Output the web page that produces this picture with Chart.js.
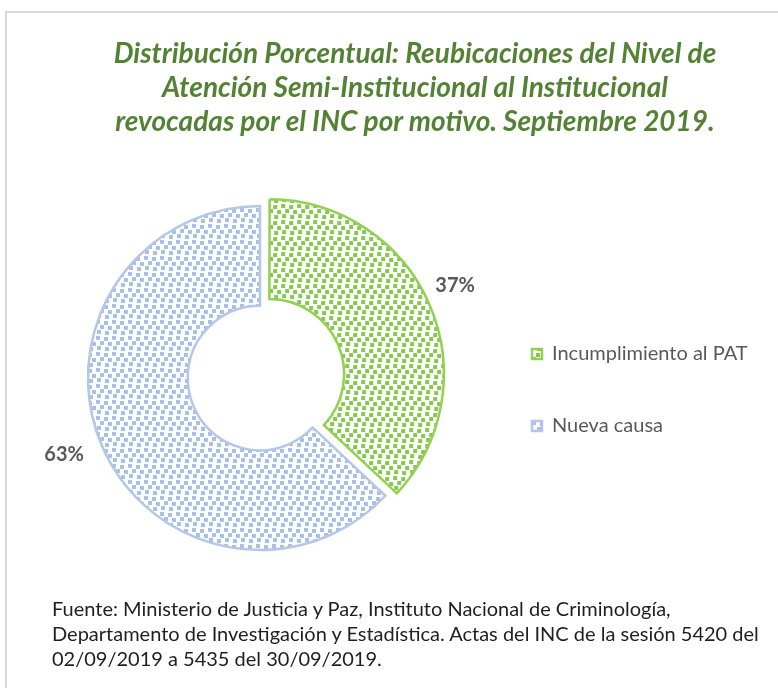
<!DOCTYPE html>
<html>
<head>
<meta charset="utf-8">
<script src="https://cdn.jsdelivr.net/npm/chart.js@4/dist/chart.umd.min.js"></script>
<style>
html,body{margin:0;padding:0;background:#fff;}
#wrap{position:relative;width:778px;height:688px;overflow:hidden;background:#fff;}
#frame{position:absolute;left:5px;top:11px;width:820px;height:720px;border-top:2px solid #d9d9d9;border-left:2px solid #d9d9d9;}
#title{position:absolute;left:40px;width:750px;top:35px;text-align:center;font-family:Lato,sans-serif;font-weight:bold;font-style:italic;font-size:28px;line-height:34px;color:#548235;}
#foot{position:absolute;left:52px;top:596px;font-family:Lato,sans-serif;font-size:20px;line-height:25px;color:#1f1f1f;white-space:nowrap;}
#cv{position:absolute;left:0;top:0;}
</style>
</head>
<body>
<div id="wrap">
  <div id="frame"></div>
  <canvas id="cv" width="778" height="688"></canvas>
  <div id="title">Distribución Porcentual: Reubicaciones del Nivel de<br>Atención Semi-Institucional al Institucional<br>revocadas por el INC por motivo. Septiembre 2019.</div>
  <div id="foot">Fuente: Ministerio de Justicia y Paz, Instituto Nacional de Criminología,<br>Departamento de Investigación y Estadística. Actas del INC de la sesión 5420 del<br>02/09/2019 a 5435 del 30/09/2019.</div>
</div>
<script>
// ---- data ----
const categories = ['Incumplimiento al PAT', 'Nueva causa'];
const values = [37, 63];

// ---- styles ----
const dotColors = ['#84C94E', '#A9C0E8'];
const edgeColors = ['#92D050', '#B4C7E7'];
const legendFont = { family: 'Lato, sans-serif', size: 20 };
const legendPad = 52, legendBox = 10, legendLeft = 480;

function makePattern(color) {
  const t = document.createElement('canvas');
  t.width = 16; t.height = 16;
  const c = t.getContext('2d');
  c.fillStyle = '#ffffff';
  c.fillRect(0, 0, 16, 16);
  c.fillStyle = color;
  const sq = [[0,0],[8,1],[4,5],[12,6],[1,10],[9,11]];
  sq.forEach(p => c.fillRect(p[0], p[1], 4, 4));
  return document.getElementById('cv').getContext('2d').createPattern(t, 'repeat');
}
const patterns = dotColors.map(makePattern);

// legend width so that its left edge lands at legendLeft
const mctx = document.createElement('canvas').getContext('2d');
mctx.font = legendFont.size + 'px ' + legendFont.family;
const maxText = Math.max(...categories.map(s => mctx.measureText(s).width));
const legendWidth = legendPad + legendBox + legendFont.size / 2 + maxText + 10;
const padRight = Math.max(0, 778 - legendLeft - legendWidth);

const pctLabels = {
  id: 'pctLabels',
  afterDatasetsDraw(chart) {
    const meta = chart.getDatasetMeta(0);
    const ctx = chart.ctx;
    const total = values.reduce((a, b) => a + b, 0);
    ctx.save();
    ctx.font = 'bold 20px Lato, sans-serif';
    ctx.fillStyle = '#595959';
    ctx.textAlign = 'center';
    ctx.textBaseline = 'middle';
    meta.data.forEach((arc, i) => {
      const mid = (arc.startAngle + arc.endAngle) / 2;
      const off = (arc.options.offset || 0) / 4;
      const cx = arc.x + Math.cos(mid) * off;
      const cy = arc.y + Math.sin(mid) * off;
      const r = arc.outerRadius + 36;
      ctx.fillText(Math.round(values[i] / total * 100) + '%', cx + Math.cos(mid) * r - 5, cy + Math.sin(mid) * r - 6);
    });
    ctx.restore();
  }
};

new Chart(document.getElementById('cv'), {
  type: 'doughnut',
  data: {
    labels: categories,
    datasets: [{
      data: values,
      backgroundColor: patterns,
      borderColor: edgeColors,
      borderWidth: 2.5,
      borderJoinStyle: 'miter',
      offset: [40, 0]
    }]
  },
  options: {
    responsive: false,
    animation: false,
    events: [],
    radius: 172,
    cutout: '42%',
    layout: { padding: { left: 40, right: padRight, top: 168, bottom: 100 } },
    plugins: {
      tooltip: { enabled: false },
      legend: {
        position: 'right',
        align: 'center',
        title: { display: true, text: '', font: { size: 24, lineHeight: 1 }, padding: 0 },
        labels: {
          boxWidth: legendBox,
          boxHeight: legendBox,
          padding: legendPad,
          color: '#595959',
          font: legendFont
        }
      }
    }
  },
  plugins: [pctLabels]
});
</script>
</body>
</html>
